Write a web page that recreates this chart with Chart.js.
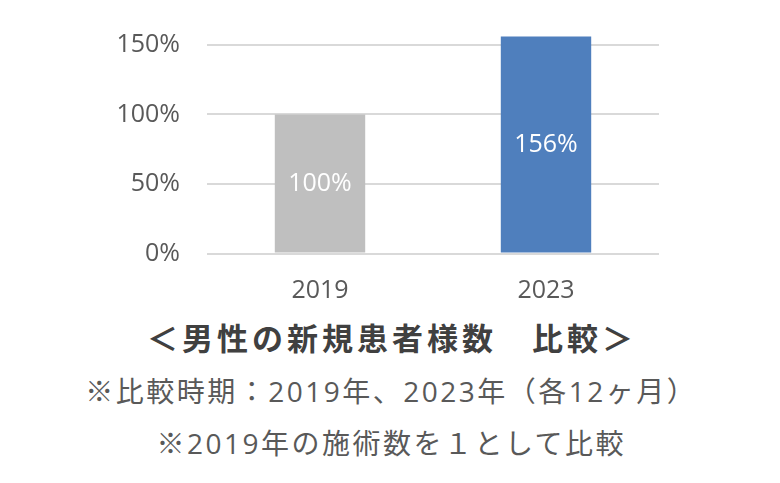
<!DOCTYPE html>
<html lang="ja">

<head>
  <meta charset="UTF-8">
  <meta name="viewport" content="width=device-width, initial-scale=1.0">
  <title>男性の新規患者様数 比較</title>
  <style>
    body {
      margin: 0;
      background-color: #ffffff;
      font-family: 'Noto Sans CJK JP', sans-serif;
    }

    .page {
      position: relative;
      width: 780px;
      height: 483px;
      overflow: hidden;
    }

    .chart-container {
      position: absolute;
      left: 0;
      top: 0;
      width: 780px;
      height: 310px;
    }

    .caption {
      position: absolute;
      left: 0;
      width: 780px;
      text-align: center;
      line-height: 40px;
      white-space: nowrap;
    }

    .caption.title {
      top: 317px;
      font-size: 31px;
      font-weight: bold;
      color: #404040;
      letter-spacing: 4px;
      padding-left: 4px;
      box-sizing: border-box;
    }

    .caption.note {
      font-family: 'Open Sans', 'Noto Sans CJK JP', sans-serif;
      font-size: 28px;
      color: #595959;
      letter-spacing: 2.5px;
      padding-left: 2.5px;
      box-sizing: border-box;
    }
  </style>
</head>

<body>
  <div class="page">
    <div class="chart-container">
      <canvas id="ratioChart"></canvas>
    </div>
    <div class="caption title">＜男性の新規患者様数　比較＞</div>
    <div class="caption note" style="top: 371px;">※比較時期：2019年、2023年（各12ヶ月）</div>
    <div class="caption note" style="top: 423px;">※2019年の施術数を１として比較</div>
  </div>

  <script src="https://cdn.jsdelivr.net/npm/chart.js"></script>
  <script>
    const years = ['2019', '2023'];
    const ratios = [100, 156];
    const barColors = ['#BFBFBF', '#4F7FBD'];
    const yTicks = [0, 50, 100, 150];

    // white value labels in the middle of each bar
    const barLabels = {
      id: 'barLabels',
      afterDatasetsDraw(chart) {
        const ctx = chart.ctx;
        const meta = chart.getDatasetMeta(0);
        ctx.save();
        ctx.fillStyle = '#ffffff';
        ctx.font = '25px "Open Sans"';
        ctx.textAlign = 'center';
        ctx.textBaseline = 'middle';
        meta.data.forEach((bar, i) => {
          const mid = (bar.y + bar.base) / 2;
          ctx.fillText(ratios[i] + '%', bar.x, mid);
        });
        ctx.restore();
      }
    };

    const ctx1 = document.getElementById('ratioChart').getContext('2d');
    new Chart(ctx1, {
      type: 'bar',
      data: {
        labels: years,
        datasets: [{
          data: ratios,
          backgroundColor: barColors,
          borderWidth: 0,
          barPercentage: 0.8,
          categoryPercentage: 0.5
        }]
      },
      options: {
        responsive: true,
        maintainAspectRatio: false,
        animation: false,
        layout: {
          padding: { top: 31, right: 121, left: 0, bottom: 0 }
        },
        scales: {
          y: {
            min: 0,
            max: 160,
            afterBuildTicks: scale => {
              scale.ticks = yTicks.map(v => ({ value: v }));
            },
            afterFit: scale => {
              scale.width = 207;
              // tick padding would otherwise push the plot area down
              scale.paddingTop = 0;
              scale.paddingBottom = 0;
            },
            ticks: {
              color: '#595959',
              padding: 27,
              font: { family: 'Open Sans', size: 25 },
              callback: v => v + '%'
            },
            grid: {
              color: '#D9D9D9',
              lineWidth: 2,
              drawTicks: false
            },
            border: { display: false }
          },
          x: {
            afterFit: scale => {
              scale.height = 56.5;
            },
            ticks: {
              color: '#595959',
              padding: 22,
              font: { family: 'Open Sans', size: 25 }
            },
            grid: { display: false, drawTicks: false },
            border: { display: false }
          }
        },
        plugins: {
          legend: { display: false },
          tooltip: { enabled: false }
        }
      },
      plugins: [barLabels]
    });
  </script>
</body>

</html>
